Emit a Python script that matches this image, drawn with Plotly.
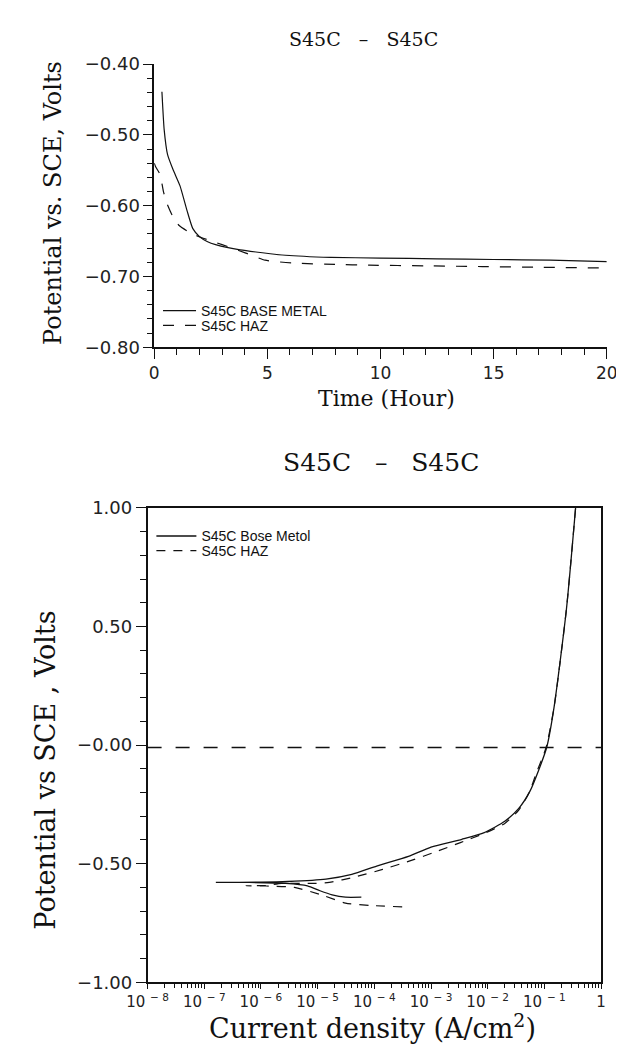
import plotly.graph_objects as go

# ---------------- Top chart: open-circuit potential vs time ----------------
time_base = [0.34, 0.44, 0.59, 0.83, 1.14, 1.45, 1.70, 2.01, 2.36, 2.71, 3.8, 5.8, 7.8, 10.0, 12.5, 15.0, 17.5, 20.0]
pot_base = [-0.439, -0.493, -0.528, -0.549, -0.572, -0.607, -0.632, -0.644, -0.651, -0.655, -0.6625, -0.670, -0.673,
            -0.674, -0.675, -0.676, -0.677, -0.679]

time_haz = [0.0, 0.06, 0.26, 0.40, 0.54, 0.83, 1.10, 1.63, 2.08, 3.0, 4.05, 4.9, 6.1, 8.0, 9.5, 12.0, 14.5, 17.0, 20.0]
pot_haz = [-0.540, -0.545, -0.556, -0.579, -0.595, -0.616, -0.628, -0.639, -0.645, -0.655, -0.667, -0.677, -0.681,
           -0.683, -0.684, -0.685, -0.686, -0.687, -0.688]

top_xticks = [0, 5, 10, 15, 20]
top_xticklabels = ["0", "5", "10", "15", "20"]
top_yticks = [-0.80, -0.70, -0.60, -0.50, -0.40]
top_yticklabels = ["\u22120.80", "\u22120.70", "\u22120.60", "\u22120.50", "\u22120.40"]

# ---------------- Bottom chart: polarization curves ----------------
# scan order: cathodic branch (right -> left) then anodic branch (left -> right)
cd_base = [5.9e-5, 3.1e-5, 1.8e-5, 1.1e-5, 6.6e-6, 2.7e-6, 6.3e-7, 1.6e-7,
           1.0e-6, 3.0e-6, 1.4e-5, 4.0e-5, 1.1e-4, 4.0e-4, 1.0e-3, 3.5e-3, 8.7e-3,
           2.0e-2, 3.5e-2, 5.6e-2, 7.8e-2, 0.110, 0.148, 0.245, 0.355]
ep_base = [-0.641, -0.641, -0.631, -0.614, -0.593, -0.583, -0.579, -0.579,
           -0.578, -0.575, -0.565, -0.545, -0.510, -0.469, -0.430, -0.397, -0.369,
           -0.321, -0.268, -0.193, -0.110, -0.009, 0.159, 0.574, 1.00]

cd_haz = [3.1e-4, 8.5e-5, 3.1e-5, 1.26e-5, 3.9e-6, 1.23e-6, 5.4e-7,
          1.23e-6, 2.3e-6, 8.5e-6, 1.6e-5, 4.5e-5, 1.4e-4, 4.5e-4, 1.2e-3, 3.3e-3, 9.3e-3,
          2.0e-2, 3.5e-2, 5.4e-2, 7.2e-2, 0.107, 0.148, 0.245, 0.355]
ep_haz = [-0.682, -0.676, -0.666, -0.634, -0.600, -0.594, -0.593,
          -0.592, -0.583, -0.583, -0.579, -0.556, -0.524, -0.486, -0.450, -0.411, -0.369,
          -0.330, -0.275, -0.200, -0.118, -0.010, 0.159, 0.574, 1.00]

ref_cd = [1e-8, 1.0]
ref_ep = [-0.01, -0.01]

bot_xticks = [1e-8, 1e-7, 1e-6, 1e-5, 1e-4, 1e-3, 1e-2, 1e-1, 1]
bot_xticklabels = ["10 <sup>\u2212 8</sup>", "10 <sup>\u2212 7</sup>", "10 <sup>\u2212 6</sup>", "10 <sup>\u2212 5</sup>",
                   "10 <sup>\u2212 4</sup>", "10 <sup>\u2212 3</sup>", "10 <sup>\u2212 2</sup>", "10 <sup>\u2212 1</sup>", "1"]
bot_yticks = [-1.0, -0.5, 0.0, 0.5, 1.0]
bot_yticklabels = ["\u22121.00", "\u22120.50", "\u22120.00", "0.50", "1.00"]

W, H = 624, 1047
SERIF = "DejaVu Serif"
SANS = "DejaVu Sans"
INK = "#111111"


def px(x):
    return x / W


def py(y):
    return 1 - y / H


fig = go.Figure()

fig.add_trace(go.Scatter(x=time_base, y=pot_base, mode="lines", name="S45C BASE METAL",
                         line=dict(color=INK, width=1.2, shape="spline", smoothing=0.5),
                         xaxis="x", yaxis="y", legend="legend"))
fig.add_trace(go.Scatter(x=time_haz, y=pot_haz, mode="lines", name="S45C HAZ",
                         line=dict(color=INK, width=1.2, dash="11px,11px", shape="spline", smoothing=0.5),
                         xaxis="x", yaxis="y", legend="legend3"))

fig.add_trace(go.Scatter(x=cd_base, y=ep_base, mode="lines", name="S45C Bose Metol",
                         line=dict(color=INK, width=1.3, shape="spline", smoothing=0.6),
                         xaxis="x2", yaxis="y2", legend="legend2"))
fig.add_trace(go.Scatter(x=cd_haz, y=ep_haz, mode="lines", name="S45C HAZ",
                         line=dict(color=INK, width=1.2, dash="9px,8px", shape="spline", smoothing=0.6),
                         xaxis="x2", yaxis="y2", legend="legend4"))
fig.add_trace(go.Scatter(x=ref_cd, y=ref_ep, mode="lines", showlegend=False,
                         line=dict(color=INK, width=1.3, dash="14px,14px"),
                         xaxis="x2", yaxis="y2"))

axcommon = dict(showgrid=False, zeroline=False, showline=True, linecolor=INK, linewidth=1.5,
                ticks="outside", tickcolor=INK, tickwidth=1.3)

legfont = dict(family="Liberation Sans", size=14, color=INK)


def leg(xp, yp, iw):
    return dict(x=px(xp), y=py(yp), xanchor="left", yanchor="middle", bgcolor="rgba(0,0,0,0)",
                font=legfont, itemwidth=iw, tracegroupgap=0, borderwidth=0)


fig.update_layout(
    width=W, height=H,
    margin=dict(l=0, r=0, t=0, b=0),
    paper_bgcolor="white", plot_bgcolor="white",
    xaxis=dict(domain=[px(132), px(609)], anchor="y", range=[0, 20],
               tickvals=top_xticks, ticktext=top_xticklabels, ticklen=10,
               tickfont=dict(family=SANS, size=17, color="#222222"),
               minor=dict(dtick=1, ticks="outside", ticklen=6, tickcolor=INK, tickwidth=1.2),
               **axcommon),
    yaxis=dict(domain=[py(335), py(46)], anchor="x", range=[-0.80, -0.40],
               tickvals=top_yticks, ticktext=top_yticklabels, ticklen=9,
               tickfont=dict(family=SANS, size=18, color="#222222"),
               minor=dict(dtick=0.02, tick0=-0.8, ticks="outside", ticklen=5, tickcolor=INK, tickwidth=1.2),
               **axcommon),
    xaxis2=dict(domain=[px(125), px(603)], anchor="y2", type="log", range=[-8, 0],
                tickvals=bot_xticks, ticktext=bot_xticklabels, ticklen=5, mirror=True,
                tickfont=dict(family=SANS, size=15, color="#222222"),
                minor=dict(dtick="D1", ticks="outside", ticklen=4, tickcolor=INK, tickwidth=1.0),
                **axcommon),
    yaxis2=dict(domain=[py(983), py(499)], anchor="x2", range=[-1.0, 1.0],
                tickvals=bot_yticks, ticktext=bot_yticklabels, ticklen=10, mirror=True,
                tickfont=dict(family=SANS, size=18, color="#222222"),
                minor=dict(dtick=0.1, tick0=-1.0, ticks="outside", ticklen=6, tickcolor=INK, tickwidth=1.2),
                **axcommon),
    legend=leg(136, 298, 33),
    legend3=leg(136, 313, 33),
    legend2=leg(129, 528, 40),
    legend4=leg(129, 543, 40),
    showlegend=True,
)

annots = [
    dict(text="S45C\u00a0\u00a0\u00a0\u2013\u00a0\u00a0\u00a0S45C", x=px(353), y=py(20), yanchor="middle",
         font=dict(family=SERIF, size=19, color=INK)),
    dict(text="Potential vs. SCE, Volts", x=px(26), y=py(188), textangle=-90, yanchor="middle",
         font=dict(family=SERIF, size=24, color=INK)),
    dict(text="Time (Hour)", x=px(377), y=py(387), yanchor="middle",
         font=dict(family=SERIF, size=22, color=INK)),
    dict(text="S45C\u00a0\u00a0\u00a0\u2013\u00a0\u00a0\u00a0S45C", x=px(371), y=py(453), yanchor="middle",
         font=dict(family=SERIF, size=25, color=INK)),
    dict(text="Potential vs SCE , Volts", x=px(18), y=py(767), textangle=-90, yanchor="middle",
         font=dict(family=SERIF, size=27, color=INK)),
    dict(text="Current density (A/cm<sup>2</sup>)", x=px(362), y=py(1047), yanchor="bottom",
         font=dict(family=SERIF, size=27, color=INK)),
]
for a in annots:
    fig.add_annotation(xref="paper", yref="paper", showarrow=False, xanchor="center", borderpad=0, **a)

fig.write_html("out.html")
